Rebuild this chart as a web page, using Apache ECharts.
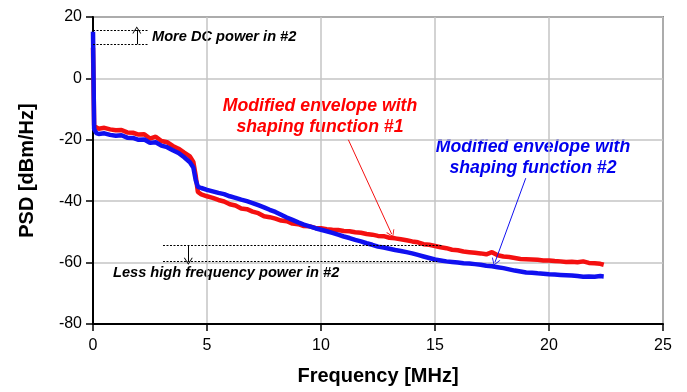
<!DOCTYPE html>
<html><head><meta charset="utf-8">
<script src="https://cdn.jsdelivr.net/npm/echarts@6/dist/echarts.min.js"></script>
<style>html,body{margin:0;padding:0;background:#fff}#c{width:687px;height:392px}</style>
</head><body><div id="c"></div>
<script>
const freq = [0,0.05,0.15,0.25,0.5,0.75,1,1.25,1.5,1.75,2,2.25,2.5,2.75,3,3.25,3.5,3.75,4,4.25,4.4,4.5,4.6,4.75,
  5,5.25,5.5,5.75,6,6.25,6.5,6.75,7,7.25,7.5,7.75,8,8.25,8.5,8.75,9,9.25,9.5,9.75,10,10.25,10.5,10.75,
  11,11.25,11.5,11.75,12,12.25,12.5,12.75,13,13.25,13.5,13.75,14,14.25,14.5,14.75,15,15.25,15.5,15.75,
  16,16.25,16.5,16.75,17,17.25,17.5,17.75,18,18.25,18.5,18.75,19,19.25,19.5,19.75,20,20.25,20.5,20.75,
  21,21.25,21.5,21.75,22,22.25,22.4];
const psd1 = [10,-15.3,-16.0,-16.4,-16.1,-16.6,-16.9,-16.8,-17.6,-17.7,-18.3,-18.2,-19.6,-19.0,-20.4,-20.8,-22.0,-22.9,-24.2,-25.4,-27.2,-31.5,-37.0,-37.8,
  -38.4,-38.9,-39.6,-40.1,-41.0,-41.4,-42.4,-42.6,-43.4,-43.9,-44.9,-45.2,-45.7,-46.3,-46.5,-47.3,-47.5,-48.1,-48.2,-48.7,-48.8,-49.1,-49.3,-49.4,
  -49.7,-49.8,-50.1,-50.3,-50.7,-50.9,-51.3,-51.4,-51.9,-52.1,-52.4,-52.7,-53.1,-53.4,-54.0,-54.2,-54.6,-55.0,-55.3,-55.8,
  -56.0,-56.4,-56.6,-56.8,-57.0,-57.3,-56.6,-57.6,-58.0,-58.2,-58.5,-58.8,-58.9,-59.0,-59.1,-59.3,-59.3,-59.5,-59.6,-59.8,
  -59.7,-59.9,-59.6,-60.1,-60.2,-60.4,-60.7];
const psd2 = [15.2,-16.5,-17.8,-18.1,-17.9,-18.4,-18.7,-18.5,-19.3,-19.4,-20.0,-19.9,-21.0,-20.8,-21.9,-22.4,-23.4,-24.3,-25.7,-27.3,-29.0,-33.0,-35.3,-35.7,
  -36.3,-36.8,-37.3,-37.7,-38.4,-38.9,-39.5,-40.0,-40.6,-41.3,-42.0,-42.8,-43.5,-44.4,-45.3,-46.1,-46.9,-47.6,-48.2,-48.8,-49.3,-49.8,-50.3,-50.9,
  -51.5,-52.0,-52.6,-53.1,-53.7,-54.2,-54.8,-55.1,-55.5,-55.9,-56.2,-56.6,-57.0,-57.5,-58.0,-58.5,-59.0,-59.3,-59.6,-59.8,
  -60.0,-60.2,-60.3,-60.5,-60.7,-61.0,-61.2,-61.5,-61.8,-62.2,-62.6,-62.9,-63.2,-63.3,-63.5,-63.6,-63.8,-63.9,-64.0,-64.1,
  -64.2,-64.4,-64.6,-64.5,-64.6,-64.4,-64.5];
const xTicks = {min:0, max:25, interval:5};
const yTicks = {min:-80, max:20, interval:20};
// annotation levels (data units)
const dcLevels = [15.8, 11.1];
const hfLevels = [-54.5, -59.6];

const font = 'Liberation Sans, Arial, sans-serif';
const chart = echarts.init(document.getElementById('c'));
const pairs = arr => freq.map((f,i)=>[f,arr[i]]);
const vee = 'path://M0,0 L6,12 L4.6,12 L0,2.6 L-4.6,12 L-6,12 Z';
const dotted = {color:'#000', type:[2,1.5], width:1};
chart.setOption({
  animation:false,
  grid:{left:93, top:17, right:24, bottom:68, show:true, borderColor:'#333', borderWidth:1.5},
  xAxis:{type:'value', min:xTicks.min, max:xTicks.max, interval:xTicks.interval,
    name:'Frequency [MHz]', nameLocation:'middle', nameGap:42,
    nameTextStyle:{fontFamily:font, fontWeight:'bold', fontSize:20, color:'#000'},
    axisLine:{onZero:false, lineStyle:{color:'#000', width:2}}, axisTick:{length:7, lineStyle:{color:'#000', width:1.5}},
    axisLabel:{fontFamily:font, fontSize:16, color:'#000', margin:14},
    splitLine:{lineStyle:{color:'#c4c4c4', width:1.5}}},
  yAxis:{type:'value', min:yTicks.min, max:yTicks.max, interval:yTicks.interval,
    name:'PSD [dBm/Hz]', nameLocation:'middle', nameGap:56,
    nameTextStyle:{fontFamily:font, fontWeight:'bold', fontSize:20, color:'#000'},
    axisLine:{show:true, onZero:false, lineStyle:{color:'#000', width:2}}, axisTick:{show:true, length:7, lineStyle:{color:'#000', width:1.5}},
    axisLabel:{fontFamily:font, fontSize:16, color:'#000', margin:11},
    splitLine:{lineStyle:{color:'#c4c4c4', width:1.5}}},
  series:[
    {type:'line', data:pairs(psd1), showSymbol:false, lineStyle:{color:'#f41010', width:4.5}, z:2},
    {type:'line', data:pairs(psd2), showSymbol:false, lineStyle:{color:'#1010f0', width:4.5}, z:3},
    {type:'line', data:[], z:4, markLine:{silent:true, animation:false, symbol:'none', label:{show:false},
      data:[
        [{coord:[0,dcLevels[0]], lineStyle:dotted},{coord:[2.41,dcLevels[0]]}],
        [{coord:[0,dcLevels[1]], lineStyle:dotted},{coord:[2.41,dcLevels[1]]}],
        [{coord:[3.07,hfLevels[0]], lineStyle:dotted},{coord:[15.3,hfLevels[0]]}],
        [{coord:[3.07,hfLevels[1]], lineStyle:dotted},{coord:[15.1,hfLevels[1]]}]
      ]}},
    {type:'line', data:[], z:5, markLine:{silent:true, animation:false, symbol:['none', vee], symbolSize:[9,7], label:{show:false},
      data:[
        [{coord:[1.92,dcLevels[1]], lineStyle:{color:'#000', width:1, type:'solid'}},{coord:[1.92,dcLevels[0]]}],
        [{coord:[4.18,hfLevels[0]], lineStyle:{color:'#000', width:1, type:'solid'}},{coord:[4.18,hfLevels[1]]}],
        [{coord:[11.2,-20.0], lineStyle:{color:'#f41010', width:1, type:'solid'}},{coord:[13.1,-50.7]}],
        [{coord:[18.98,-32.5], lineStyle:{color:'#1010f0', width:1, type:'solid'}},{coord:[17.63,-59.9]}]
      ]}}
  ],
  graphic:[
    {type:'text', left:152, top:29, style:{text:'More DC power in #2', font:'italic bold 14.6px '+font, fill:'#000'}},
    {type:'text', left:113, top:265, style:{text:'Less high frequency power in #2', font:'italic bold 14.6px '+font, fill:'#000'}},
    {type:'text', x:320, y:96, style:{text:'Modified envelope with\nshaping function #1', font:'italic bold 17.7px '+font, fill:'#ff0000', align:'center', lineHeight:21}},
    {type:'text', x:533, y:137, style:{text:'Modified envelope with\nshaping function #2', font:'italic bold 17.7px '+font, fill:'#0000ee', align:'center', lineHeight:21}}
  ]
});
</script></body></html>
